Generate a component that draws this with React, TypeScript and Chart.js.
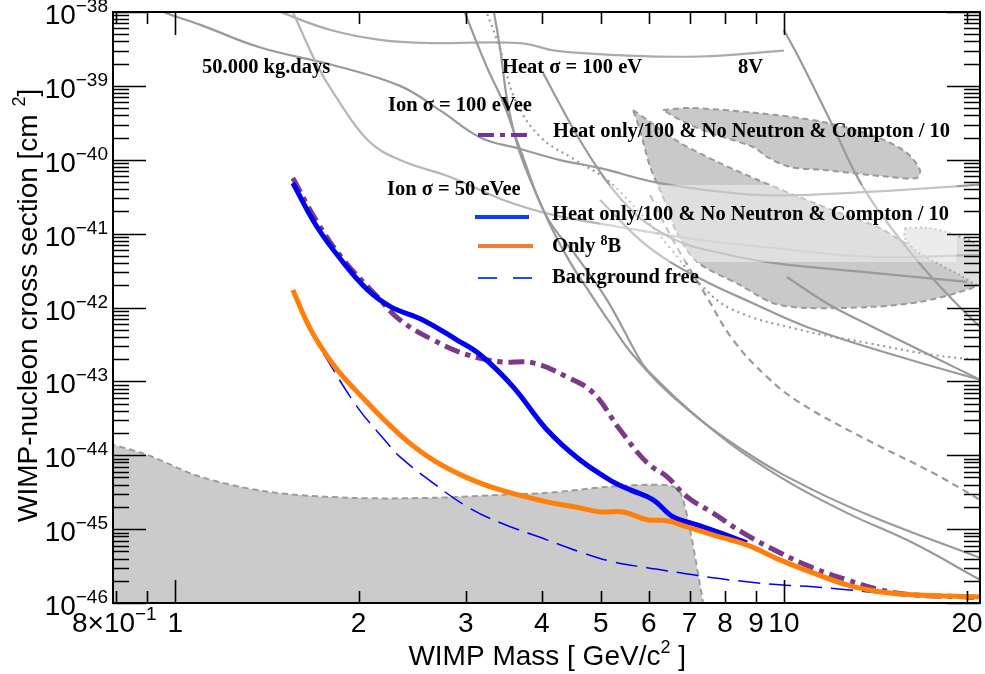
import React, { useEffect, useRef } from "react";
import { Chart, registerables } from "chart.js";

Chart.register(...registerables);

// ---------- axis ranges & ticks ----------
const X_MIN = 0.79;
const X_MAX = 21;
const Y_MIN = 1e-46;
const Y_MAX = 1e-38;
const xMajorTicks = [1, 10];
const xMinorTicks = [0.8, 0.9, 2, 3, 4, 5, 6, 7, 8, 9, 20];
const xTickLabels = ["1", "2", "3", "4", "5", "6", "7", "8", "9", "10", "20"];
const xTickLabelValues = [1, 2, 3, 4, 5, 6, 7, 8, 9, 10, 20];
const yDecades = [-46, -45, -44, -43, -42, -41, -40, -39, -38];

// ---------- main curves ----------
const heatOnlyMass = [1.56, 1.71, 1.89, 2.07, 2.26, 2.55, 2.9, 3.17, 3.59, 4.08, 4.62, 5.24, 5.59, 6.1, 6.57, 7.2, 7.94, 8.69];
const heatOnlySigma = [4.85e-41, 1.23e-41, 4.02e-42, 1.73e-42, 1.02e-42, 6.79e-43, 3.65e-43, 2.29e-43, 8.44e-44, 2.21e-44, 8.67e-45, 4.36e-45, 3.4e-45, 2.49e-45, 1.47e-45, 1.14e-45, 8.63e-46, 6.52e-46];

const heatOnlyNoNMass = [1.56, 1.71, 1.89, 2.15, 2.34, 2.65, 3.02, 3.42, 3.87, 4.4, 4.86, 5.38, 5.96, 6.43, 6.93, 7.64, 8.57, 9.85, 11.16, 12.69, 14.38, 16.28, 19.97, 21.0];
const heatOnlyNoNSigma = [5.67e-41, 1.44e-41, 4.41e-42, 1.39e-42, 6.79e-43, 3.65e-43, 2.29e-43, 1.84e-43, 1.78e-43, 1.15e-43, 6.99e-44, 2.21e-44, 7.89e-45, 5.1e-45, 2.74e-45, 1.66e-45, 8.91e-46, 4.78e-46, 2.99e-46, 2.06e-46, 1.51e-46, 1.29e-46, 1.21e-46, 1.18e-46];

const only8BMass = [1.56, 1.67, 1.82, 1.99, 2.34, 2.65, 3.02, 3.42, 4.08, 4.62, 4.99, 5.44, 5.96, 6.43, 6.93, 7.64, 8.69, 9.85, 11.16, 12.69, 14.38, 16.28, 21.0];
const only8BSigma = [1.73e-42, 4.98e-43, 1.67e-43, 7.21e-44, 1.89e-44, 8.66e-45, 4.94e-45, 3.4e-45, 2.34e-45, 1.94e-45, 1.71e-45, 1.71e-45, 1.34e-45, 1.3e-45, 1.07e-45, 8.37e-46, 6.12e-46, 3.84e-46, 2.56e-46, 1.76e-46, 1.42e-46, 1.29e-46, 1.21e-46];

const bgFreeMass = [1.75, 1.99, 2.23, 2.34, 2.65, 3.02, 3.42, 4.08, 4.62, 5.24, 5.96, 6.75, 7.64, 8.69, 9.85, 11.16, 12.69, 14.38, 16.28, 21.0];
const bgFreeSigma = [2.4e-43, 4.52e-44, 1.47e-44, 9.51e-45, 4.23e-45, 2.0e-45, 1.22e-45, 7.16e-46, 4.93e-46, 3.61e-46, 3.0e-46, 2.57e-46, 2.19e-46, 1.94e-46, 1.76e-46, 1.66e-46, 1.51e-46, 1.37e-46, 1.29e-46, 1.21e-46];

// ---------- shaded region (bottom left) ----------
const floorMass = [0.78, 0.79, 0.9, 1.1, 1.42, 1.94, 2.65, 3.42, 4.08, 5.12, 5.96, 6.5, 6.75, 7.01, 7.4];
const floorSigma = [1.38e-44, 1.38e-44, 1.01e-44, 5.1e-45, 3.2e-45, 2.65e-45, 2.65e-45, 2.91e-45, 3.1e-45, 3.73e-45, 3.98e-45, 3.86e-45, 3.2e-45, 9.77e-46, 8e-47];

// ---------- grey projection / limit curves ----------
const heat100Mass = [1.41, 1.49, 1.8, 2.17, 2.62, 3.69, 4.21, 5.38, 7.28, 10.0];
const heat100Sigma = [1.24e-38, 1.0e-38, 5.7e-39, 4.2e-39, 3.8e-39, 3.8e-39, 3.0e-39, 2.6e-39, 2.5e-39, 3.0e-39];

const ion100Mass = [0.91, 0.956, 1.1, 1.38, 1.82, 2.34, 2.72, 3.17, 3.69, 4.29, 4.99, 6.19, 7.85, 9.59, 14.0, 21.0];
const ion100Sigma = [1.24e-38, 1.0e-38, 6.7e-39, 3.3e-39, 1.9e-39, 1.0e-39, 4.7e-40, 2.0e-40, 1.4e-40, 9.9e-41, 7.7e-41, 4.9e-41, 3.7e-41, 3.3e-41, 3.7e-41, 4.6e-41];

const ion50Mass = [1.54, 1.56, 1.71, 1.82, 2.07, 2.34, 2.83, 3.46, 4.18, 5.38, 7.28, 9.59, 14.0, 21.0];
const ion50Sigma = [1.24e-38, 1.0e-38, 1.92e-39, 8.0e-40, 1.85e-40, 9.9e-41, 5.85e-41, 2.86e-41, 1.79e-41, 1.23e-41, 8.22e-42, 6.4e-42, 4.84e-42, 5.15e-42];

const curveDMass = [4.02, 4.29, 4.62, 4.99, 5.38, 5.91, 6.75, 7.85, 9.59, 14.0, 20.0];
const curveDSigma = [1.5e-39, 5.51e-40, 1.85e-40, 6.84e-41, 3.04e-41, 1.44e-41, 7.72e-42, 5.48e-42, 4.01e-42, 2.94e-42, 2.22e-42];

const curveStMass = [10.0, 10.63, 11.9, 13.48, 15.68, 17.36, 19.09, 21.0];
const curveStSigma = [5.71e-39, 2.24e-39, 3.46e-40, 4.29e-41, 7.48e-42, 2.76e-42, 1.19e-42, 5.46e-43];

const curveX2Mass = [10.11, 11.9, 14.0, 17.36, 21.0];
const curveX2Sigma = [2.59e-42, 1.08e-42, 5.46e-43, 2.28e-43, 1.05e-43];

const curveX1Mass = [4.99, 5.8, 6.5, 7.47, 8.8, 10.91, 15.51, 21.0];
const curveX1Sigma = [2.86e-41, 8.22e-42, 4.14e-42, 2.22e-42, 1.19e-42, 5.46e-43, 2.15e-43, 1.05e-43];

const curveQMass = [2.97, 3.25, 3.46, 3.69, 4.08, 4.57, 5.12, 5.74, 5.96, 7.64, 9.85, 12.69, 16.28, 21.0];
const curveQSigma = [1.13e-38, 1.8e-39, 5.87e-40, 1.36e-40, 1.68e-41, 4.84e-42, 1.27e-42, 2.28e-43, 1.43e-43, 2.21e-44, 5.1e-45, 1.66e-45, 6.52e-46, 2.06e-46];

const curvePMass = [3.33, 3.42, 3.51, 3.64, 3.83, 4.13, 4.45, 4.8, 5.18, 5.65, 6.75, 8.69, 11.16, 14.38, 21.0];
const curvePSigma = [1.13e-38, 3.06e-39, 6.45e-40, 1.69e-40, 5.33e-41, 1.31e-41, 4.14e-42, 1.58e-42, 6.19e-43, 2.28e-43, 5.12e-44, 1.08e-44, 3.4e-45, 1.34e-45, 4.09e-46];

const dottedMass = [3.23, 3.42, 3.62, 3.98, 4.54, 5.12, 5.8, 6.5, 7.36, 8.25, 10.63, 13.69, 17.57, 21.0];
const dottedSigma = [1.13e-38, 3.06e-39, 6.45e-40, 2.03e-40, 9.94e-41, 5.33e-41, 1.91e-41, 6.4e-42, 1.9e-42, 9.28e-43, 4.98e-43, 3.32e-43, 2.28e-43, 1.95e-43];

const dashedMass = [6.03, 6.57, 7.47, 8.25, 9.38, 10.63, 13.69, 17.57, 21.0];
const dashedSigma = [3.34e-41, 8.22e-42, 1.39e-42, 3.64e-43, 1.15e-43, 5.12e-44, 1.62e-44, 5.78e-45, 2.49e-45];

// ---------- contour regions (upper right) ----------
const regionAMass = [6.33, 7.01, 9.03, 11.59, 14.21, 15.92, 16.73, 16.54, 14.93, 11.59, 10.23, 9.38, 8.9, 7.56, 6.75, 6.33];
const regionASigma = [4.72e-40, 5.02e-40, 4.3e-40, 3.25e-40, 2.03e-40, 1.24e-40, 7.28e-41, 5.67e-41, 5.85e-41, 7.28e-41, 7.99e-41, 1.09e-40, 1.49e-40, 2.31e-40, 3.46e-40, 4.72e-40];

const regionBMass = [5.65, 5.98, 6.75, 7.85, 9.13, 10.63, 12.36, 14.38, 15.51, 16.73, 19.23, 21.0, 21.0, 19.23, 16.73, 14.0, 10.83, 9.59, 8.47, 7.2, 6.67, 6.43, 6.03, 5.8, 5.65];
const regionBSigma = [4.72e-40, 3.4e-40, 1.7e-40, 9.0e-41, 5.2e-41, 3.1e-41, 1.9e-41, 1.19e-41, 8.22e-42, 6.02e-42, 4.69e-42, 4.14e-42, 2.15e-42, 1.58e-42, 1.19e-42, 1.02e-42, 9.88e-43, 1.15e-42, 2.02e-42, 4.14e-42, 1.02e-41, 2.3e-41, 7.99e-41, 2.53e-40, 4.72e-40];

const regionCMass = [15.8, 17.36, 19.09, 21.0, 21.0, 19.45, 17.7, 16.41, 15.8, 15.8];
const regionCSigma = [1.19e-41, 1.19e-41, 9.6e-42, 6.4e-42, 2.02e-42, 2.76e-42, 4.14e-42, 6.02e-42, 8.75e-42, 1.19e-41];

// lighter band (semi transparent box) in data units
const bandMass = [4.99, 19.23];
const bandSigma = [4.56e-41, 4.14e-42];

// ---------- text ----------
const annotations = [
  { text: "50.000 kg.days", x: 202, y: 73 },
  { text: "Heat σ = 100 eV", x: 502, y: 73 },
  { text: "8V", x: 738, y: 73 },
  { text: "Ion σ = 100 eVee", x: 388, y: 111 },
  { text: "Heat only/100 & No Neutron & Compton / 10", x: 553, y: 137 },
  { text: "Ion σ = 50 eVee", x: 387, y: 195 },
];

const BLUE = "#0000f5";
const ORANGE = "#ff7f0a";
const PURPLE = "#7b3a88";
const GRAY = "#9a9a9a";
const LIGHT_GRAY = "#b6b6b6";
const SANS = "'Liberation Sans', Arial, Helvetica, sans-serif";
const SERIF = "'Liberation Serif', 'Times New Roman', serif";
const ANN_FONT = `bold 20.5px ${SERIF}`;

const pts = (xs: number[], ys: number[]) => xs.map((x, i) => ({ x, y: ys[i] }));

function curve(label: string, xs: number[], ys: number[], color: string, width: number, dash: number[], order: number, extra: any = {}) {
  return {
    label,
    data: pts(xs, ys),
    borderColor: color,
    backgroundColor: color,
    borderWidth: width,
    borderDash: dash,
    pointRadius: 0,
    showLine: true,
    fill: false,
    tension: 0.4,
    order,
    ...extra,
  };
}

function drawSup(ctx: CanvasRenderingContext2D, parts: { t: string; sup?: boolean }[], x: number, y: number, font: string, supFont: string, raise: number, align: "left" | "center" | "right") {
  const widths = parts.map((p) => {
    ctx.font = p.sup ? supFont : font;
    return ctx.measureText(p.t).width;
  });
  const total = widths.reduce((a, b) => a + b, 0);
  let cx = align === "left" ? x : align === "center" ? x - total / 2 : x - total;
  ctx.textAlign = "left";
  ctx.textBaseline = "alphabetic";
  parts.forEach((p, i) => {
    ctx.font = p.sup ? supFont : font;
    ctx.fillText(p.t, cx, p.sup ? y - raise : y);
    cx += widths[i];
  });
}

const framePlugin = {
  id: "rootFrame",
  afterDatasetsDraw(chart: any) {
    const { ctx, scales } = chart;
    const xs = scales.x;
    const ys = scales.y;
    const x0 = xs.getPixelForValue(bandMass[0]);
    const x1 = xs.getPixelForValue(bandMass[1]);
    const y0 = ys.getPixelForValue(bandSigma[0]);
    const y1 = ys.getPixelForValue(bandSigma[1]);
    ctx.save();
    ctx.fillStyle = "rgba(255,255,255,0.42)";
    ctx.fillRect(x0, y0, x1 - x0, y1 - y0);
    ctx.restore();
  },
  afterDraw(chart: any) {
    const { ctx, chartArea: a, scales } = chart;
    const xs = scales.x;
    const ys = scales.y;
    ctx.save();
    // ticks
    ctx.strokeStyle = "#000";
    ctx.lineWidth = 1.6;
    ctx.beginPath();
    const xt = (v: number, len: number) => {
      const p = Math.round(xs.getPixelForValue(v)) + 0.5;
      ctx.moveTo(p, a.bottom);
      ctx.lineTo(p, a.bottom - len);
      ctx.moveTo(p, a.top);
      ctx.lineTo(p, a.top + len);
    };
    xMajorTicks.forEach((v) => xt(v, 23));
    xMinorTicks.forEach((v) => xt(v, 12));
    const yt = (v: number, len: number) => {
      const p = Math.round(ys.getPixelForValue(v)) + 0.5;
      ctx.moveTo(a.left, p);
      ctx.lineTo(a.left + len, p);
      ctx.moveTo(a.right, p);
      ctx.lineTo(a.right - len, p);
    };
    yDecades.forEach((e) => {
      yt(Math.pow(10, e), 33);
      if (e < -38) {
        for (let m = 2; m <= 9; m++) yt(m * Math.pow(10, e), 16);
      }
    });
    ctx.stroke();
    ctx.lineWidth = 2;
    ctx.strokeRect(a.left, a.top, a.right - a.left, a.bottom - a.top);

    // y tick labels
    ctx.fillStyle = "#000";
    yDecades.forEach((e) => {
      const p = ys.getPixelForValue(Math.pow(10, e));
      drawSup(ctx, [{ t: "10" }, { t: "\u2212" + Math.abs(e), sup: true }], 108, p + 12, `28px ${SANS}`, `19px ${SANS}`, 12, "right");
    });
    // x tick labels
    const by = 632;
    xTickLabelValues.forEach((v, i) => {
      ctx.font = `28px ${SANS}`;
      ctx.textAlign = "center";
      ctx.textBaseline = "alphabetic";
      ctx.fillText(xTickLabels[i], xs.getPixelForValue(v), by);
    });
    drawSup(ctx, [{ t: "8\u00d710" }, { t: "\u22121", sup: true }], xs.getPixelForValue(0.8) - 2, by, `28px ${SANS}`, `19px ${SANS}`, 12, "center");

    // axis titles
    drawSup(ctx, [{ t: "WIMP Mass [ GeV/c" }, { t: "2", sup: true }, { t: " ]" }], 686, 665, `28px ${SANS}`, `18px ${SANS}`, 12, "right");
    ctx.save();
    ctx.translate(37, 522);
    ctx.rotate(-Math.PI / 2);
    drawSup(ctx, [{ t: "WIMP-nucleon cross section [cm " }, { t: "2", sup: true }, { t: "]" }], 0, 0, `28px ${SANS}`, `18px ${SANS}`, 12, "left");
    ctx.restore();

    // annotations
    ctx.fillStyle = "#000";
    annotations.forEach((an) => {
      ctx.font = ANN_FONT;
      ctx.textAlign = "left";
      ctx.fillText(an.text, an.x, an.y);
    });

    // legend samples
    ctx.lineCap = "butt";
    ctx.strokeStyle = "#7432a0";
    ctx.lineWidth = 4;
    ctx.setLineDash([16, 6, 5, 6]);
    ctx.beginPath();
    ctx.moveTo(478, 135);
    ctx.lineTo(531, 135);
    ctx.stroke();

    ctx.setLineDash([]);
    ctx.strokeStyle = "#0a3cff";
    ctx.beginPath();
    ctx.moveTo(475, 217);
    ctx.lineTo(529, 217);
    ctx.stroke();

    ctx.strokeStyle = "#f08030";
    ctx.beginPath();
    ctx.moveTo(478, 246);
    ctx.lineTo(533, 246);
    ctx.stroke();

    ctx.strokeStyle = "#1a4dff";
    ctx.lineWidth = 2;
    ctx.setLineDash([19, 16]);
    ctx.beginPath();
    ctx.moveTo(478, 278);
    ctx.lineTo(533, 278);
    ctx.stroke();
    ctx.setLineDash([]);

    ctx.fillStyle = "#000";
    ctx.font = ANN_FONT;
    ctx.textAlign = "left";
    ctx.fillText("Heat only/100 & No Neutron & Compton / 10", 552, 220);
    drawSup(ctx, [{ t: "Only " }, { t: "8", sup: true }, { t: "B" }], 552, 252, ANN_FONT, `bold 14px ${SERIF}`, 7, "left");
    ctx.font = ANN_FONT;
    ctx.fillText("Background free", 552, 283);
    ctx.restore();
  },
};

export default function App() {
  const ref = useRef<HTMLCanvasElement | null>(null);
  useEffect(() => {
    if (!ref.current) return;
    const datasets: any[] = [
      curve("floor", floorMass, floorSigma, "#9c9c9c", 2, [6, 4], 100, { fill: "start", backgroundColor: "#cbcbcb", tension: 0.3 }),
      curve("regionB", regionBMass, regionBSigma, "#9a9a9a", 2, [6, 4], 96, { fill: "shape", backgroundColor: "#c9c9c9", tension: 0.3 }),
      curve("regionA", regionAMass, regionASigma, "#9a9a9a", 2, [6, 4], 95, { fill: "shape", backgroundColor: "#c9c9c9", tension: 0.3 }),
      curve("regionC", regionCMass, regionCSigma, "#a5a5a5", 2, [2, 3], 94, { fill: "shape", backgroundColor: "#dedede", tension: 0.3 }),
      curve("heat100", heat100Mass, heat100Sigma, "#ababab", 2.2, [], 60),
      curve("ion100", ion100Mass, ion100Sigma, GRAY, 2.2, [], 59),
      curve("ion50", ion50Mass, ion50Sigma, LIGHT_GRAY, 2.2, [], 58),
      curve("D", curveDMass, curveDSigma, GRAY, 2.2, [], 57),
      curve("St", curveStMass, curveStSigma, GRAY, 2.2, [], 56),
      curve("X2", curveX2Mass, curveX2Sigma, GRAY, 2.2, [], 55),
      curve("X1", curveX1Mass, curveX1Sigma, GRAY, 2.2, [], 54),
      curve("Q", curveQMass, curveQSigma, GRAY, 2.2, [], 53),
      curve("P", curvePMass, curvePSigma, GRAY, 2.2, [], 52),
      curve("dotted", dottedMass, dottedSigma, GRAY, 2.2, [2, 4], 51),
      curve("dashed", dashedMass, dashedSigma, GRAY, 2.2, [7, 5], 50),
      curve("Background free", bgFreeMass, bgFreeSigma, BLUE, 1.5, [22, 9], 4),
      curve("Heat only/100 & No Neutron & Compton / 10 (dash-dot)", heatOnlyNoNMass, heatOnlyNoNSigma, PURPLE, 5, [16, 6, 5, 6], 3),
      curve("Heat only/100 & No Neutron & Compton / 10", heatOnlyMass, heatOnlySigma, BLUE, 5, [], 2),
      curve("Only 8B", only8BMass, only8BSigma, ORANGE, 5, [], 1),
    ];
    const chart = new Chart(ref.current, {
      type: "scatter",
      data: { datasets },
      options: {
        animation: false,
        responsive: true,
        maintainAspectRatio: false,
        events: [],
        layout: { padding: { left: 113, top: 12, right: 5, bottom: 71 } },
        scales: {
          x: { type: "logarithmic", min: X_MIN, max: X_MAX, display: false },
          y: { type: "logarithmic", min: Y_MIN, max: Y_MAX, display: false },
        },
        plugins: { legend: { display: false }, tooltip: { enabled: false } },
      },
      plugins: [framePlugin],
    } as any);
    return () => chart.destroy();
  }, []);
  return (
    <div style={{ position: "fixed", left: 0, top: 0, width: 985, height: 674, background: "#fff" }}>
      <canvas ref={ref} />
    </div>
  );
}
